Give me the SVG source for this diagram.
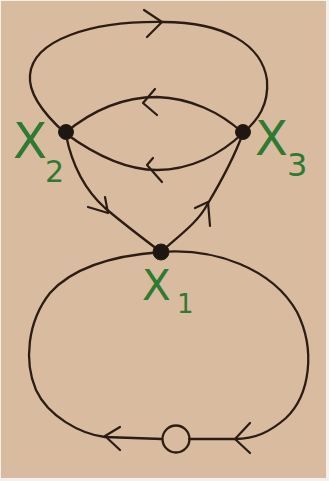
<svg xmlns="http://www.w3.org/2000/svg" width="329" height="481" viewBox="0 0 329 481">
<style>
.e{fill:none;stroke:#2b1d15;stroke-width:2.3;stroke-linecap:round;stroke-linejoin:round}
.a{fill:none;stroke:#2b1d15;stroke-width:2.2;stroke-linecap:round;stroke-linejoin:round}
.n{fill:#1e1612;stroke:#2b1d15;stroke-width:1}
.l{fill:#2f7a33;font-family:"DejaVu Sans",sans-serif}
</style>
<rect x="0" y="0" width="329" height="481" fill="#f4f1ec"/>
<rect x="1" y="1" width="325" height="477" fill="#d9bb9f"/>
<g id="connectors">
<path class="e" d="M65,133 C45,115 28,95 30,75 C33,40 90,21 163,22 C225,22 262,45 267,80 C269,105 258,120 243,133"/>
<path class="a" d="M144,10 L162,22 L147,37"/>
<path class="e" d="M65,133 C95,108 125,97 157,97 C190,98 220,112 243,133"/>
<path class="a" d="M155,89 L143,103 L157,115"/>
<path class="e" d="M65,133 C95,155 125,170 157,170 C190,170 220,155 243,133"/>
<path class="a" d="M153,158 L147,165 L162,182"/>
<path class="e" d="M66,135 C72,165 85,190 105,208 C125,225 145,240 161,252"/>
<path class="a" d="M88,207 L108,213 L105,197"/>
<path class="e" d="M161,252 C180,235 198,222 207,205 C222,180 235,155 243,133"/>
<path class="a" d="M195,208 L208,202 L210,226"/>
<path class="e" d="M161,252 C215,248 272,268 297,312 C316,350 310,395 286,418 C270,432 255,439 235,439 L189,439"/>
<path class="e" d="M162,439 L105,437 C80,434 48,416 36,390 C24,362 27,322 50,293 C75,265 120,255 161,252"/>
<ellipse class="e" cx="176" cy="439" rx="13.5" ry="13.5"/>
<path class="a" d="M250,423 L235,439 L250,453"/>
<path class="a" d="M120,427 L105,436 L120,450"/>
</g>
<g id="x2"><circle class="n" cx="66" cy="132" r="7.5"/><text class="l" x="13" y="158" font-size="50">X<tspan x="45" y="182" font-size="30">2</tspan></text></g>
<g id="x3"><circle class="n" cx="243" cy="132" r="7.5"/><text class="l" x="255" y="155" font-size="48">X<tspan x="287" y="176" font-size="32">3</tspan></text></g>
<g id="x1"><circle class="n" cx="161" cy="252" r="8"/><text class="l" x="142" y="300" font-size="42">X<tspan x="177" y="313" font-size="26">1</tspan></text></g>
</svg>
